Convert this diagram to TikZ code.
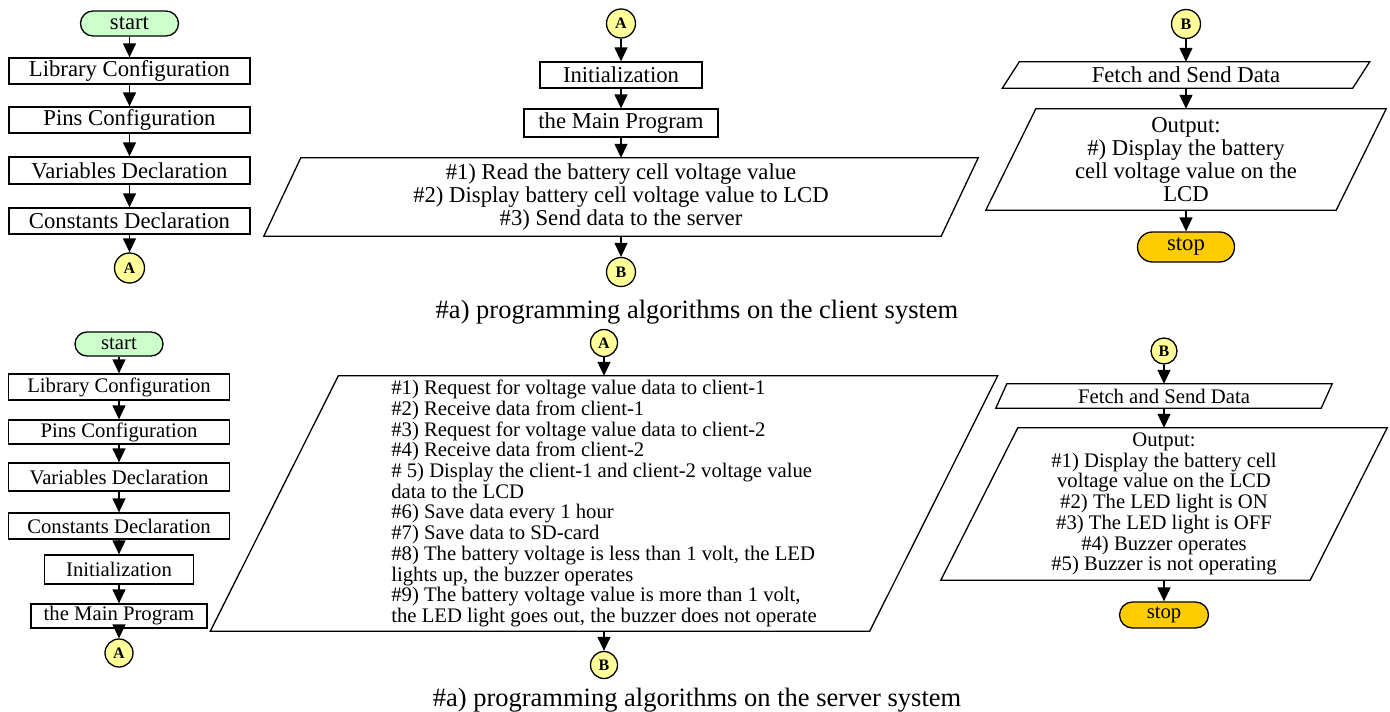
\documentclass[tikz,border=0pt]{standalone}
\usepackage{fontspec}
\setmainfont{Liberation Serif}
\usetikzlibrary{arrows.meta}
\definecolor{startgreen}{HTML}{CCFFCC}
\definecolor{stopgold}{HTML}{FFCC00}
\definecolor{conyellow}{HTML}{FFFF99}
\tikzset{
 big/.style={font=\fontsize{22.7}{23}\selectfont},
 small/.style={font=\fontsize{20.7}{20.7}\selectfont},
 procbox/.style={draw, line width=1.3pt, inner sep=0pt, minimum height=26pt},
 term/.style={draw, line width=1.3pt, inner sep=0pt},
 conn/.style={circle, draw, line width=1.3pt, fill=conyellow, inner sep=0pt, font=\bfseries\fontsize{16}{16}\selectfont},
 ptext/.style={inner sep=0pt, align=center},
 pline/.style={line width=1.3pt, line join=miter},
 arr/.style={line width=1.3pt, -{Triangle[length=14pt,width=13pt]}},
 captext/.style={font=\fontsize{26.5}{26.5}\selectfont, inner sep=0pt},
}
\newcommand\parashape[2]{%
  \draw[pline] ([xshift=#2/2]#1.north west) -- ([xshift=#2/2]#1.north east) -- ([xshift=-#2/2]#1.south east) -- ([xshift=-#2/2]#1.south west) -- cycle;}
\begin{document}
\begin{tikzpicture}[x=1pt,y=-1pt]
\useasboundingbox (0,0) rectangle (1390,712);
% ---------- top left
\node[term, big, fill=startgreen, rounded corners=12.5pt, minimum width=98pt, minimum height=25pt] (s1) at (129.5,23.5) {start};
\node[procbox, big, minimum width=241pt] (lib1) at (129.5,71) {Library Configuration};
\node[procbox, big, minimum width=241pt] (pin1) at (129.5,120) {Pins Configuration};
\node[procbox, big, minimum width=241pt, minimum height=27pt] (var1) at (129.5,170.5) {Variables Declaration};
\node[procbox, big, minimum width=241pt] (con1) at (129.5,221) {Constants Declaration};
\node[conn, minimum size=30pt] (a1) at (129.5,268) {A};
\draw[arr] (s1) -- (lib1);
\draw[arr] (lib1) -- (pin1);
\draw[arr] (pin1) -- (var1);
\draw[arr] (var1) -- (con1);
\draw[arr] (con1) -- (a1);
% ---------- top middle
\node[conn, minimum size=29pt] (a2) at (621,23.5) {A};
\node[procbox, big, minimum width=162pt] (ini2) at (621,75) {Initialization};
\node[procbox, big, minimum width=194pt, minimum height=28pt] (main2) at (621,123) {the Main Program};
\node[ptext, big, minimum width=677pt, minimum height=78pt] (p2) at (621,197)
 {\#1) Read the battery cell voltage value\\ \#2) Display battery cell voltage value to LCD\\ \#3) Send data to the server};
\parashape{p2}{37}
\node[conn, minimum size=29pt] (b2) at (621,272) {B};
\draw[arr] (a2) -- (ini2);
\draw[arr] (ini2) -- (main2);
\draw[arr] (main2) -- (p2);
\draw[arr] (p2) -- (b2);
% ---------- top right
\node[conn, minimum size=29pt] (b3) at (1186,24) {B};
\node[ptext, big, minimum width=350pt, minimum height=26pt] (f3) at (1186,75) {Fetch and Send Data};
\parashape{f3}{17}
\node[ptext, big, minimum width=350pt, minimum height=101pt] (o3) at (1186,159.5)
 {Output:\\ \#) Display the battery\\ cell voltage value on the\\ LCD};
\parashape{o3}{50}
\node[term, big, fill=stopgold, rounded corners=15pt, minimum width=97pt, minimum height=30pt] (e3) at (1186,247) {stop};
\draw[arr] (b3) -- (f3);
\draw[arr] (f3) -- (o3);
\draw[arr] (o3) -- (e3);
% ---------- caption 1
\node[captext] (cap1) at (697,312) {\#a) programming algorithms on the client system};
% ---------- bottom left
\node[term, small, fill=startgreen, rounded corners=12pt, minimum width=88pt, minimum height=24pt] (s4) at (119,344) {start};
\node[procbox, small, minimum width=221pt] (lib4) at (119,387) {Library Configuration};
\node[procbox, small, minimum width=221pt, minimum height=24pt] (pin4) at (119,432) {Pins Configuration};
\node[procbox, small, minimum width=221pt, minimum height=28pt] (var4) at (119,477) {Variables Declaration};
\node[procbox, small, minimum width=221pt] (con4) at (119,526) {Constants Declaration};
\node[procbox, small, minimum width=149pt, minimum height=29pt] (ini4) at (119,569.5) {Initialization};
\node[procbox, small, minimum width=176pt, minimum height=24pt] (main4) at (119,616) {the Main Program};
\node[conn, minimum size=28pt] (a4) at (119,653) {A};
\draw[arr] (s4) -- (lib4);
\draw[arr] (lib4) -- (pin4);
\draw[arr] (pin4) -- (var4);
\draw[arr] (var4) -- (con4);
\draw[arr] (con4) -- (ini4);
\draw[arr] (ini4) -- (main4);
\draw[arr] (main4) -- (a4);
% ---------- bottom middle
\node[conn, minimum size=27pt] (a5) at (604,343) {A};
\node[inner sep=0pt, align=left, small, minimum width=659pt, minimum height=255pt] (p5) at (604,503.5)
 {\#1) Request for voltage value data to client-1\\
  \#2) Receive data from client-1\\
  \#3) Request for voltage value data to client-2\\
  \#4) Receive data from client-2\\
  \# 5) Display the client-1 and client-2 voltage value\\
  data to the LCD\\
  \#6) Save data every 1 hour\\
  \#7) Save data to SD-card\\
  \#8) The battery voltage is less than 1 volt, the LED\\
  lights up, the buzzer operates\\
  \#9) The battery voltage value is more than 1 volt,\\
  the LED light goes out, the buzzer does not operate};
\parashape{p5}{128}
\node[conn, minimum size=27pt] (b5) at (604,665) {B};
\draw[arr] (a5) -- (p5);
\draw[arr] (p5) -- (b5);
% ---------- bottom right
\node[conn, minimum size=26pt] (b6) at (1164,351) {B};
\node[ptext, small, minimum width=325pt, minimum height=24pt] (f6) at (1164,396) {Fetch and Send Data};
\parashape{f6}{11}
\node[ptext, small, minimum width=369pt, minimum height=152pt] (o6) at (1164,504)
 {Output:\\ \#1) Display the battery cell\\ voltage value on the LCD\\ \#2) The LED light is ON\\ \#3) The LED light is OFF\\ \#4) Buzzer operates\\ \#5) Buzzer is not operating};
\parashape{o6}{77}
\node[term, small, fill=stopgold, rounded corners=13pt, minimum width=89pt, minimum height=26pt] (e6) at (1164,615) {stop};
\draw[arr] (b6) -- (f6);
\draw[arr] (f6) -- (o6);
\draw[arr] (o6) -- (e6);
% ---------- caption 2
\node[captext] (cap2) at (697,700) {\#a) programming algorithms on the server system};
\end{tikzpicture}
\end{document}
